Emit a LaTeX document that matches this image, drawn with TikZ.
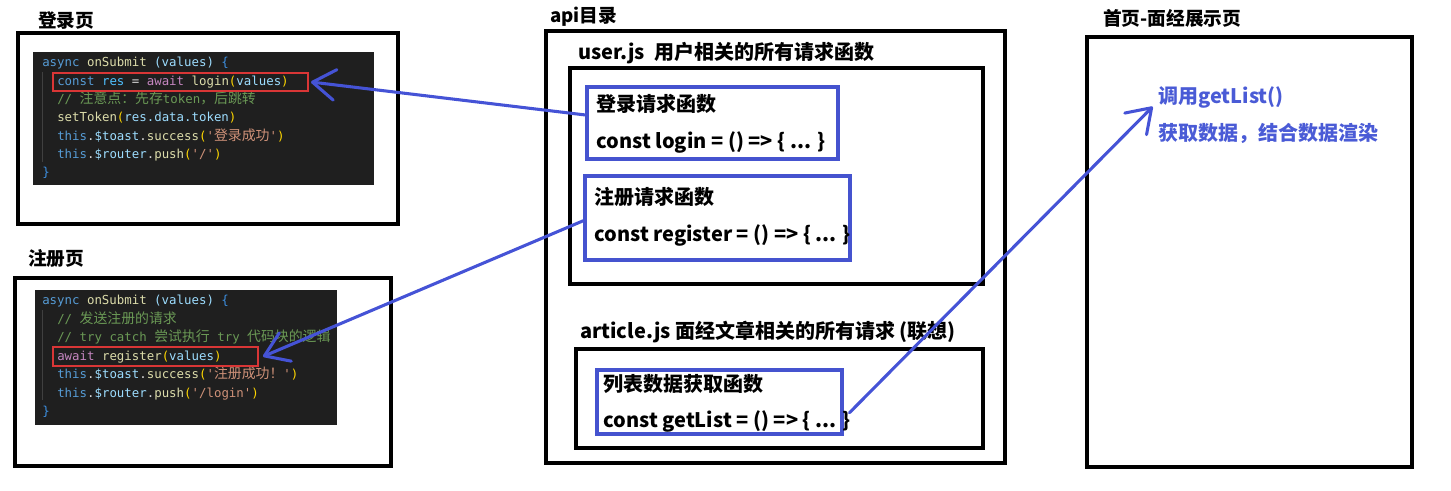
\documentclass[tikz,border=0pt]{standalone}
\usepackage{fontspec}
\setmainfont{Noto Sans CJK SC}
\setmonofont{DejaVu Sans Mono}
\newfontfamily\cjkcode{Noto Sans CJK SC}[Scale=1.12]
\usetikzlibrary{arrows.meta,fit,calc}
\definecolor{codebgc}{HTML}{1F1F1F}
\definecolor{codetext}{HTML}{D4D4D4}
\definecolor{ckw}{HTML}{569CD6}
\definecolor{cfn}{HTML}{DCDCAA}
\definecolor{cvar}{HTML}{9CDCFE}
\definecolor{cconst}{HTML}{4FC1FF}
\definecolor{cctl}{HTML}{C586C0}
\definecolor{cpar}{HTML}{FFD700}
\definecolor{cstr}{HTML}{CE9178}
\definecolor{ccom}{HTML}{6A9955}
\definecolor{cbr}{HTML}{3D8FE0}
\definecolor{guide}{HTML}{404040}
\definecolor{codered}{HTML}{D93636}
\definecolor{boxblue}{HTML}{4553CF}
\definecolor{arrowblue}{HTML}{4553D6}
\definecolor{textblue}{HTML}{4A5BD6}
\begin{document}
\begin{tikzpicture}[x=0.75pt,y=-0.75pt,
  frame/.style={draw=black, line width=2.5pt, inner sep=0pt},
  fnbox/.style={draw=boxblue, line width=2.3pt, inner sep=0pt},
  redbox/.style={draw=codered, line width=1.5pt, inner sep=0pt},
  codebg/.style={fill=codebgc, inner sep=0pt},
  title/.style={anchor=base west, inner sep=0pt, font=\bfseries\fontsize{14pt}{16pt}\selectfont},
  lbl/.style={anchor=base west, inner sep=0pt, font=\bfseries\fontsize{15pt}{18pt}\selectfont},
  code/.style={anchor=base west, inner sep=0pt, font=\ttfamily\fontsize{9.3pt}{11pt}\selectfont, text=codetext},
  link/.style={draw=arrowblue, line width=2.3pt, line cap=round, line join=round,
    -{Straight Barb[length=17pt,width=23pt,line cap=round,line join=round]}}
]
\useasboundingbox (0,0) rectangle (1451,491);

% ---------- login page ----------
\node[title] (tlogin) at (38,28) {登录页};
\node[frame, fit={(18,33) (398,224)}] (loginpg) {};
\node[codebg, fit={(33,52) (374,185)}] (logincode) {};
\draw[guide, line width=0.5pt] (42,72) -- (42,162);
\node[code] (la1) at (42,67) {\textcolor{ckw}{async} \textcolor{cfn}{onSubmit} \textcolor{cvar}{(values)} \textcolor{cbr}{\{}};
\node[code] (la2) at (57,85.3) {\textcolor{ckw}{const} \textcolor{cconst}{res} = \textcolor{cctl}{await} \textcolor{cfn}{login}\textcolor{cpar}{(}\textcolor{cvar}{values}\textcolor{cpar}{)}};
\node[code] (la3) at (57,103.6) {\textcolor{ccom}{// {\cjkcode 注意点：先存}token{\cjkcode ，后跳转}}};
\node[code] (la4) at (57,121.9) {\textcolor{cfn}{setToken}\textcolor{cpar}{(}\textcolor{cvar}{res.data.token}\textcolor{cpar}{)}};
\node[code] (la5) at (57,140.2) {\textcolor{ckw}{this}.\textcolor{cvar}{\$toast}.\textcolor{cfn}{success}\textcolor{cpar}{(}\textcolor{cstr}{'{\cjkcode 登录成功}'}\textcolor{cpar}{)}};
\node[code] (la6) at (57,158.5) {\textcolor{ckw}{this}.\textcolor{cvar}{\$router}.\textcolor{cfn}{push}\textcolor{cpar}{(}\textcolor{cstr}{'/'}\textcolor{cpar}{)}};
\node[code] (la7) at (42,176.8) {\textcolor{cbr}{\}}};
\node[redbox, fit={(53,73) (308,91)}] (redlogin) {};

% ---------- register page ----------
\node[title] (treg) at (28,266) {注册页};
\node[frame, fit={(15,278) (391,466)}] (regpg) {};
\node[codebg, fit={(35,290) (337,425)}] (regcode) {};
\draw[guide, line width=0.5pt] (42,310) -- (42,400);
\node[code] (lb1) at (42,305) {\textcolor{ckw}{async} \textcolor{cfn}{onSubmit} \textcolor{cvar}{(values)} \textcolor{cbr}{\{}};
\node[code] (lb2) at (57,323.4) {\textcolor{ccom}{// {\cjkcode 发送注册的请求}}};
\node[code] (lb3) at (57,341.8) {\textcolor{ccom}{// try catch {\cjkcode 尝试执行} try {\cjkcode 代码块的逻辑}}};
\node[code] (lb4) at (57,360.2) {\textcolor{cctl}{await} \textcolor{cfn}{register}\textcolor{cpar}{(}\textcolor{cvar}{values}\textcolor{cpar}{)}};
\node[code] (lb5) at (57,378.6) {\textcolor{ckw}{this}.\textcolor{cvar}{\$toast}.\textcolor{cfn}{success}\textcolor{cpar}{(}\textcolor{cstr}{'{\cjkcode 注册成功！}'}\textcolor{cpar}{)}};
\node[code] (lb6) at (57,397) {\textcolor{ckw}{this}.\textcolor{cvar}{\$router}.\textcolor{cfn}{push}\textcolor{cpar}{(}\textcolor{cstr}{'/login'}\textcolor{cpar}{)}};
\node[code] (lb7) at (42,415.4) {\textcolor{cbr}{\}}};
\node[redbox, fit={(53,347) (258,366)}] (redreg) {};

% ---------- api directory ----------
\node[title] (tapi) at (550,23) {api目录};
\node[frame, fit={(546,31) (1005,463)}] (apidir) {};
\node[lbl] (tuser) at (578,60) {user.js\ \ 用户相关的所有请求函数};
\node[frame, fit={(570,68) (983,284)}] (userjs) {};
\node[fnbox, fit={(587,87) (838,159)}] (loginfn) {};
\node[lbl] (loginfn1) at (596,112) {登录请求函数};
\node[lbl] (loginfn2) at (596,149) {const login = () => \{ ... \}};
\node[fnbox, fit={(585,176) (850,260)}] (regfn) {};
\node[lbl] (regfn1) at (594,205) {注册请求函数};
\node[lbl] (regfn2) at (594,242) {const register = () => \{ ... \}};
\node[lbl] (tarticle) at (580,339) {article.js 面经文章相关的所有请求 (联想)};
\node[frame, fit={(576,349) (983,448)}] (articlejs) {};
\node[fnbox, fit={(597,370) (842,434)}] (listfn) {};
\node[lbl] (listfn1) at (603,391) {列表数据获取函数};
\node[lbl] (listfn2) at (603,427) {const getList = () => \{ ... \}};

% ---------- home page ----------
\node[title] (thome) at (1103,26) {首页-面经展示页};
\node[frame, fit={(1087,37) (1412,467)}] (homepg) {};
\node[lbl, text=textblue] (call) at (1158,104) {调用getList()};
\node[lbl, text=textblue] (render) at (1158,141) {获取数据，结合数据渲染};

% ---------- connectors ----------
\draw[link] ([yshift=6pt]loginfn.west) -- ([xshift=1.5pt]redlogin.east);
\draw[link] ([yshift=-2pt]regfn.west) -- ([xshift=3pt]redreg.east);
\draw[link] ([xshift=4.5pt,yshift=-8pt]listfn.east) -- ([xshift=-4pt,yshift=-2pt]call.base west);
\end{tikzpicture}
\end{document}
